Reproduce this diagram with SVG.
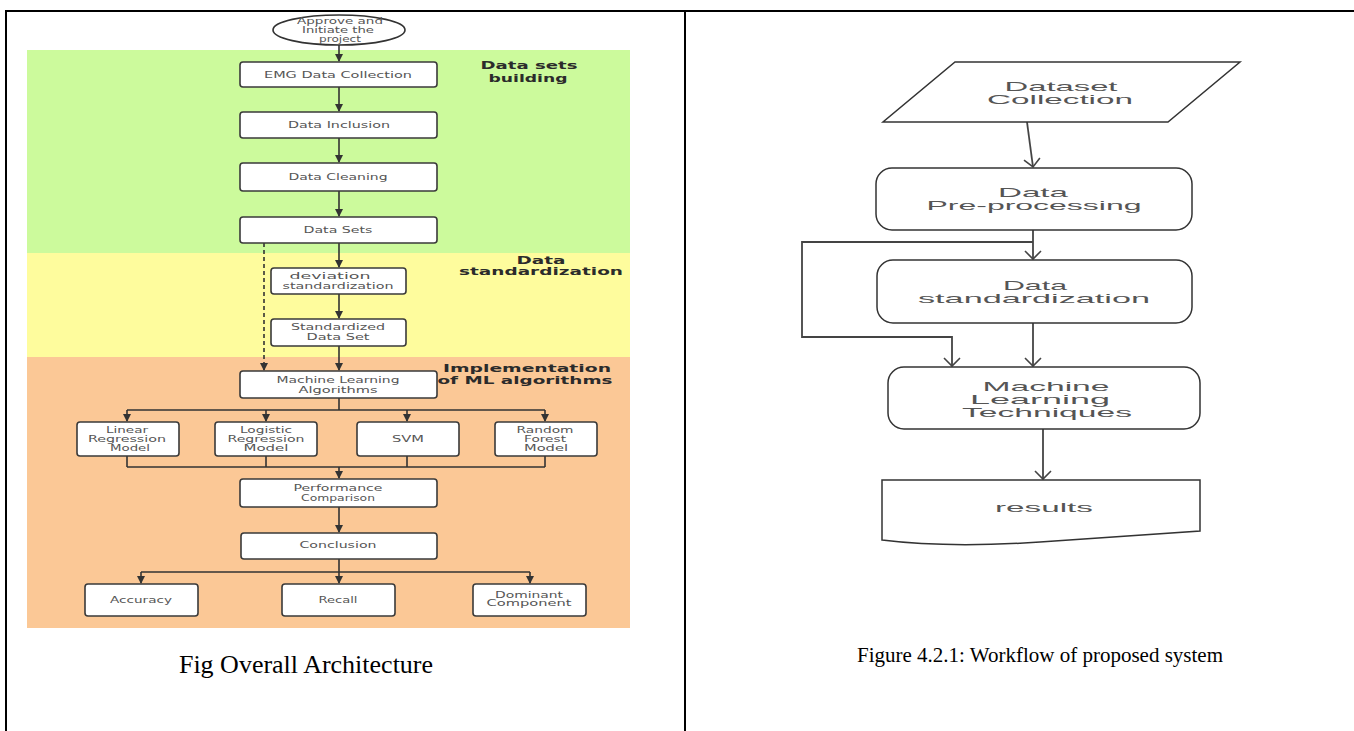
<svg xmlns="http://www.w3.org/2000/svg" width="1354" height="731" viewBox="0 0 1354 731">
<defs>
<style>
.frame{stroke:#000;stroke-width:2;fill:none}
.box{fill:#fff;stroke:#3a3a3a;stroke-width:1.6}
.t{font-family:"DejaVu Sans",Verdana,sans-serif;font-size:9px;fill:#555;text-anchor:middle}
.lbl{font-family:"DejaVu Sans",Verdana,sans-serif;font-size:11px;font-weight:bold;fill:#2b2b2b;text-anchor:middle}
.ln{stroke:#333;stroke-width:1.6;fill:none}
.rbox{fill:#fff;stroke:#333;stroke-width:1.5}
.rt{font-family:"Liberation Sans",Arial,sans-serif;font-size:13px;fill:#555;text-anchor:middle}
.rln{stroke:#444;stroke-width:1.8;fill:none}
.cap{font-family:"Liberation Serif","Times New Roman",serif;fill:#000;text-anchor:middle}
</style>
<marker id="ah" markerWidth="8" markerHeight="8" refX="7" refY="4" orient="auto" markerUnits="userSpaceOnUse">
<path d="M0,0 L8,4 L0,8 Z" fill="#333"/>
</marker>
<marker id="ov" markerWidth="12" markerHeight="18" refX="9" refY="9" orient="auto" markerUnits="userSpaceOnUse">
<path d="M1,1 L9,9 L1,17" fill="none" stroke="#444" stroke-width="1.6"/>
</marker>
</defs>
<rect width="1354" height="731" fill="#fff"/>
<g id="frame">
<line class="frame" x1="5" y1="11" x2="1354" y2="11"/>
<line class="frame" x1="6" y1="11" x2="6" y2="731"/>
<line class="frame" x1="685" y1="11" x2="685" y2="731"/>
</g>
<g id="bands">
<rect x="27" y="50" width="603" height="203" fill="#ccfa9c"/>
<rect x="27" y="253" width="603" height="104" fill="#fefc9d"/>
<rect x="27" y="357" width="603" height="271" fill="#fbc896"/>
</g>
<g id="band-labels">
<text class="lbl" x="529" y="69" fill="#24401f" textLength="97" lengthAdjust="spacingAndGlyphs">Data sets</text>
<text class="lbl" x="528" y="82" textLength="79" lengthAdjust="spacingAndGlyphs">building</text>
<text class="lbl" x="541" y="264" textLength="49" lengthAdjust="spacingAndGlyphs">Data</text>
<text class="lbl" x="541" y="275" textLength="164" lengthAdjust="spacingAndGlyphs">standardization</text>
<text class="lbl" x="527" y="372" textLength="168" lengthAdjust="spacingAndGlyphs">Implementation</text>
<text class="lbl" x="525" y="384" textLength="175" lengthAdjust="spacingAndGlyphs">of ML algorithms</text>
</g>
<g id="connectors-left">
<line class="ln" x1="339" y1="45" x2="339" y2="61" marker-end="url(#ah)"/>
<line class="ln" x1="339" y1="87" x2="339" y2="111" marker-end="url(#ah)"/>
<line class="ln" x1="339" y1="138" x2="339" y2="162" marker-end="url(#ah)"/>
<line class="ln" x1="339" y1="191" x2="339" y2="216" marker-end="url(#ah)"/>
<line class="ln" x1="339" y1="243" x2="339" y2="267" marker-end="url(#ah)"/>
<line class="ln" x1="339" y1="294" x2="339" y2="318" marker-end="url(#ah)"/>
<line class="ln" x1="339" y1="346" x2="339" y2="370" marker-end="url(#ah)"/>
<line class="ln" x1="264" y1="243" x2="264" y2="370" stroke-dasharray="4,3" marker-end="url(#ah)"/>
<path class="ln" d="M339,398 V410 M127,410 H545"/>
<line class="ln" x1="127" y1="410" x2="127" y2="421" marker-end="url(#ah)"/>
<line class="ln" x1="266" y1="410" x2="266" y2="421" marker-end="url(#ah)"/>
<line class="ln" x1="407" y1="410" x2="407" y2="421" marker-end="url(#ah)"/>
<line class="ln" x1="545" y1="410" x2="545" y2="421" marker-end="url(#ah)"/>
<path class="ln" d="M127,456 V467 M266,456 V467 M407,456 V467 M545,456 V467 M127,467 H545"/>
<line class="ln" x1="339" y1="467" x2="339" y2="478" marker-end="url(#ah)"/>
<line class="ln" x1="339" y1="507" x2="339" y2="532" marker-end="url(#ah)"/>
<path class="ln" d="M339,559 V572 M141,572 H530"/>
<line class="ln" x1="141" y1="572" x2="141" y2="583" marker-end="url(#ah)"/>
<line class="ln" x1="339" y1="572" x2="339" y2="583" marker-end="url(#ah)"/>
<line class="ln" x1="530" y1="572" x2="530" y2="583" marker-end="url(#ah)"/>
</g>
<g id="n-start">
<ellipse cx="339" cy="30" rx="66" ry="15" fill="#fff" stroke="#333" stroke-width="1.6"/>
<text class="t" x="340" y="24" font-size="9" textLength="86" lengthAdjust="spacingAndGlyphs">Approve and</text>
<text class="t" x="338" y="33" font-size="9" textLength="72" lengthAdjust="spacingAndGlyphs">Initiate the</text>
<text class="t" x="340" y="42" font-size="9" textLength="42" lengthAdjust="spacingAndGlyphs">project</text>
</g>
<g id="n-emg"><rect class="box" x="240" y="62" width="197" height="25" rx="3"/><text class="t" x="338" y="78" textLength="148" lengthAdjust="spacingAndGlyphs">EMG Data Collection</text></g>
<g id="n-inclusion"><rect class="box" x="240" y="112" width="197" height="26" rx="3"/><text class="t" x="339" y="128" textLength="102" lengthAdjust="spacingAndGlyphs">Data Inclusion</text></g>
<g id="n-cleaning"><rect class="box" x="240" y="163" width="197" height="28" rx="3"/><text class="t" x="338" y="180" textLength="99" lengthAdjust="spacingAndGlyphs">Data Cleaning</text></g>
<g id="n-sets"><rect class="box" x="240" y="217" width="197" height="26" rx="3"/><text class="t" x="338" y="233" textLength="69" lengthAdjust="spacingAndGlyphs">Data Sets</text></g>
<g id="n-deviation"><rect class="box" x="271" y="268" width="135" height="26" rx="3"/><text class="t" x="330" y="279" textLength="81" lengthAdjust="spacingAndGlyphs">deviation</text><text class="t" x="338" y="289" textLength="111" lengthAdjust="spacingAndGlyphs">standardization</text></g>
<g id="n-stdset"><rect class="box" x="271" y="319" width="135" height="27" rx="3"/><text class="t" x="338" y="330" textLength="94" lengthAdjust="spacingAndGlyphs">Standardized</text><text class="t" x="338" y="340" textLength="63" lengthAdjust="spacingAndGlyphs">Data Set</text></g>
<g id="n-ml"><rect class="box" x="240" y="371" width="197" height="27" rx="3"/><text class="t" x="338" y="383" textLength="123" lengthAdjust="spacingAndGlyphs">Machine Learning</text><text class="t" x="338" y="393" textLength="79" lengthAdjust="spacingAndGlyphs">Algorithms</text></g>
<g id="n-linear"><rect class="box" x="77" y="422" width="102" height="34" rx="3"/><text class="t" x="127" y="433" textLength="42" lengthAdjust="spacingAndGlyphs">Linear</text><text class="t" x="127" y="442" textLength="78" lengthAdjust="spacingAndGlyphs">Regression</text><text class="t" x="130" y="451" textLength="40" lengthAdjust="spacingAndGlyphs">Model</text></g>
<g id="n-logistic"><rect class="box" x="215" y="422" width="102" height="34" rx="3"/><text class="t" x="266" y="433" textLength="52" lengthAdjust="spacingAndGlyphs">Logistic</text><text class="t" x="266" y="442" textLength="77" lengthAdjust="spacingAndGlyphs">Regression</text><text class="t" x="266" y="451" textLength="45" lengthAdjust="spacingAndGlyphs">Model</text></g>
<g id="n-svm"><rect class="box" x="357" y="422" width="102" height="34" rx="3"/><text class="t" x="408" y="442" textLength="32" lengthAdjust="spacingAndGlyphs">SVM</text></g>
<g id="n-rf"><rect class="box" x="495" y="422" width="102" height="34" rx="3"/><text class="t" x="545" y="433" textLength="57" lengthAdjust="spacingAndGlyphs">Random</text><text class="t" x="545" y="442" textLength="42" lengthAdjust="spacingAndGlyphs">Forest</text><text class="t" x="546" y="451" textLength="44" lengthAdjust="spacingAndGlyphs">Model</text></g>
<g id="n-perf"><rect class="box" x="240" y="479" width="197" height="28" rx="3"/><text class="t" x="338" y="491" textLength="89" lengthAdjust="spacingAndGlyphs">Performance</text><text class="t" x="338" y="501" textLength="74" lengthAdjust="spacingAndGlyphs">Comparison</text></g>
<g id="n-conclusion"><rect class="box" x="241" y="533" width="196" height="26" rx="3"/><text class="t" x="338" y="548" textLength="77" lengthAdjust="spacingAndGlyphs">Conclusion</text></g>
<g id="n-accuracy"><rect class="box" x="85" y="584" width="113" height="32" rx="3"/><text class="t" x="141" y="603" textLength="62" lengthAdjust="spacingAndGlyphs">Accuracy</text></g>
<g id="n-recall"><rect class="box" x="282" y="584" width="113" height="32" rx="3"/><text class="t" x="338" y="603" textLength="39" lengthAdjust="spacingAndGlyphs">Recall</text></g>
<g id="n-dominant"><rect class="box" x="473" y="584" width="113" height="32" rx="3"/><text class="t" x="529" y="598" textLength="68" lengthAdjust="spacingAndGlyphs">Dominant</text><text class="t" x="529" y="606" textLength="85" lengthAdjust="spacingAndGlyphs">Component</text></g>
<text class="cap" x="306" y="673" font-size="26">Fig Overall Architecture</text>

<g id="connectors-right">
<line class="rln" x1="1027" y1="122" x2="1033" y2="167" marker-end="url(#ov)"/>
<line class="rln" x1="1033" y1="230" x2="1033" y2="259" marker-end="url(#ov)"/>
<polyline class="rln" points="1033,242 802,242 802,337 952,337 952,366" marker-end="url(#ov)"/>
<line class="rln" x1="1033" y1="323" x2="1033" y2="366" marker-end="url(#ov)"/>
<line class="rln" x1="1043" y1="429" x2="1043" y2="479" marker-end="url(#ov)"/>
</g>
<g id="r-dataset"><polygon class="rbox" points="955,62 1240,62 1168,122 883,122"/><text class="rt" x="1061" y="91" textLength="113" lengthAdjust="spacingAndGlyphs">Dataset</text><text class="rt" x="1060" y="104" textLength="146" lengthAdjust="spacingAndGlyphs">Collection</text></g>
<g id="r-pre"><rect class="rbox" x="876" y="168" width="316" height="62" rx="16"/><text class="rt" x="1033" y="197" textLength="70" lengthAdjust="spacingAndGlyphs">Data</text><text class="rt" x="1034" y="210" textLength="215" lengthAdjust="spacingAndGlyphs">Pre-processing</text></g>
<g id="r-std"><rect class="rbox" x="877" y="260" width="315" height="63" rx="16"/><text class="rt" x="1035" y="290" textLength="64" lengthAdjust="spacingAndGlyphs">Data</text><text class="rt" x="1034" y="303" textLength="232" lengthAdjust="spacingAndGlyphs">standardization</text></g>
<g id="r-ml"><rect class="rbox" x="888" y="367" width="312" height="62" rx="16"/><text class="rt" x="1046" y="391" font-size="11" textLength="127" lengthAdjust="spacingAndGlyphs">Machine</text><text class="rt" x="1040" y="404" font-size="11" textLength="140" lengthAdjust="spacingAndGlyphs">Learning</text><text class="rt" x="1047" y="417" font-size="11" textLength="170" lengthAdjust="spacingAndGlyphs">Techniques</text></g>
<g id="r-results"><path class="rbox" d="M882,480 H1200 V531 C1150,534 1100,538 1040,542 C980,546 930,546 882,540 Z"/><text class="rt" x="1044" y="512" textLength="98" lengthAdjust="spacingAndGlyphs">results</text></g>
<text class="cap" x="1040" y="662" font-size="21">Figure 4.2.1: Workflow of proposed system</text>
</svg>
